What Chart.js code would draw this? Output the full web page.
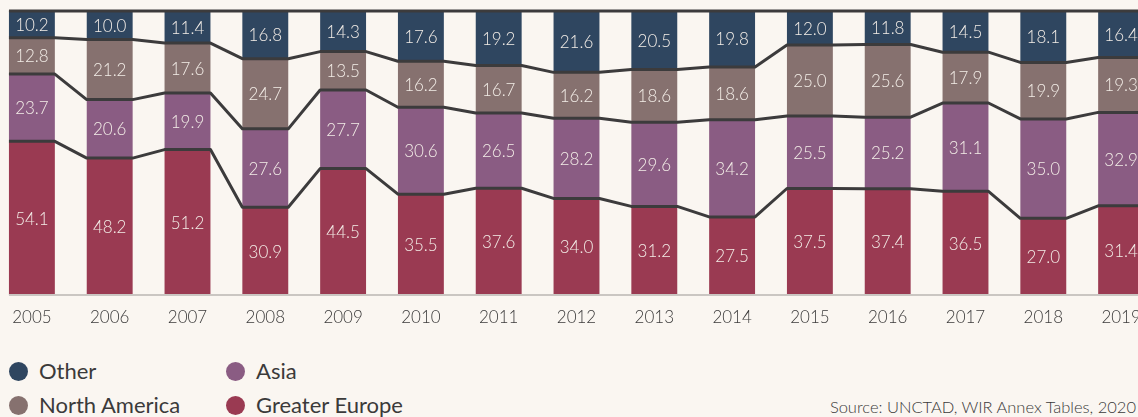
<!DOCTYPE html>
<html>
<head>
<meta charset="utf-8">
<script src="https://cdn.jsdelivr.net/npm/chart.js@4.4.1/dist/chart.umd.min.js"></script>
<style>
  html, body { margin: 0; padding: 0; background: #faf6f1; overflow: hidden; }
  body { width: 1138px; height: 417px; position: relative; font-family: "Lato", sans-serif; color: #3b3a3a; }
  .plot { position: absolute; left: -7px; top: 0; width: 1167px; height: 330px; }
  .leg { position: absolute; font-size: 22px; line-height: 1; display: flex; align-items: center; }
  .leg i { display: inline-block; width: 19px; height: 19px; border-radius: 50%; margin-right: 11px; }
  .src { position: absolute; right: 2px; top: 397px; font-size: 16.5px; font-weight: 300; white-space: nowrap; }
</style>
</head>
<body>
<div class="plot"><canvas id="c"></canvas></div>
<div class="leg" style="left:9px; top:360px"><i style="background:#2f4660"></i>Other</div>
<div class="leg" style="left:226px; top:360px"><i style="background:#8a5c83"></i>Asia</div>
<div class="leg" style="left:9px; top:394px"><i style="background:#86716f"></i>North America</div>
<div class="leg" style="left:226px; top:394px"><i style="background:#9a3a52"></i>Greater Europe</div>
<div class="src">Source: UNCTAD, WIR Annex Tables, 2020</div>
<script>
const YEARS = ["2005", "2006", "2007", "2008", "2009", "2010", "2011", "2012", "2013", "2014", "2015", "2016", "2017", "2018", "2019"];
const EUROPE = [54.1, 48.2, 51.2, 30.9, 44.5, 35.5, 37.6, 34.0, 31.2, 27.5, 37.5, 37.4, 36.5, 27.0, 31.4];
const ASIA = [23.7, 20.6, 19.9, 27.6, 27.7, 30.6, 26.5, 28.2, 29.6, 34.2, 25.5, 25.2, 31.1, 35.0, 32.9];
const NORTH_AMERICA = [12.8, 21.2, 17.6, 24.7, 13.5, 16.2, 16.7, 16.2, 18.6, 18.6, 25.0, 25.6, 17.9, 19.9, 19.3];
const OTHER = [10.2, 10.0, 11.4, 16.8, 14.3, 17.6, 19.2, 21.6, 20.5, 19.8, 12.0, 11.8, 14.5, 18.1, 16.4];

const LINE = "#3c3b3c";
const LABEL = "#f3ede7";

// lignes de liaison entre les barres + ligne du haut + axe du bas
const joiners = {
  id: "joiners",
  afterDatasetsDraw(chart) {
    const ctx = chart.ctx;
    const y = chart.scales.y;
    const first = chart.getDatasetMeta(0).data[0];
    const x0 = first.x - first.width / 2;
    ctx.save();
    // axe du bas
    ctx.strokeStyle = "#cac6c2";
    ctx.lineWidth = 2;
    ctx.beginPath();
    ctx.moveTo(x0, y.getPixelForValue(0));
    ctx.lineTo(chart.width, y.getPixelForValue(0));
    ctx.stroke();
    // limites entre segments
    ctx.strokeStyle = LINE;
    ctx.lineWidth = 3;
    ctx.lineJoin = "round";
    for (let k = 0; k < 3; k++) {
      const els = chart.getDatasetMeta(k).data;
      ctx.beginPath();
      els.forEach((el, i) => {
        const l = el.x - el.width / 2, r = el.x + el.width / 2;
        if (i === 0) ctx.moveTo(l, el.y); else ctx.lineTo(l, el.y);
        ctx.lineTo(r, el.y);
      });
      ctx.stroke();
    }
    // ligne du haut (100 %)
    ctx.beginPath();
    ctx.moveTo(x0, y.getPixelForValue(100));
    ctx.lineTo(chart.width, y.getPixelForValue(100));
    ctx.stroke();
    // valeurs dans les segments
    ctx.fillStyle = LABEL;
    ctx.font = "300 17px Lato, sans-serif";
    ctx.textAlign = "center";
    ctx.textBaseline = "middle";
    chart.data.datasets.forEach((ds, k) => {
      chart.getDatasetMeta(k).data.forEach((el, i) => {
        const top = Math.max(el.y, y.getPixelForValue(100));
        ctx.fillText(ds.data[i].toFixed(1), el.x, (top + el.base) / 2 + 1);
      });
    });
    ctx.restore();
  },
};

new Chart(document.getElementById("c"), {
  type: "bar",
  data: {
    labels: YEARS,
    datasets: [
      { label: "Greater Europe", data: EUROPE, backgroundColor: "#9a3a52" },
      { label: "Asia", data: ASIA, backgroundColor: "#8a5c83" },
      { label: "North America", data: NORTH_AMERICA, backgroundColor: "#86716f" },
      { label: "Other", data: OTHER, backgroundColor: "#2f4660" },
    ],
  },
  options: {
    responsive: true, maintainAspectRatio: false, animation: false,
    categoryPercentage: 1, barPercentage: 0.59,
    layout: { padding: { top: 11, left: 0, right: 0, bottom: 0 } },
    plugins: { legend: { display: false }, tooltip: { enabled: false } },
    scales: {
      x: {
        stacked: true,
        grid: { display: false, drawTicks: false },
        border: { display: false },
        ticks: { color: "#3b3a3a", font: { family: "Lato", size: 17, weight: 300 }, padding: 12, maxRotation: 0, autoSkip: false },
        afterFit: (s) => { s.height = 35; },
      },
      y: { stacked: true, display: false, min: 0, max: 100 },
    },
  },
  plugins: [joiners],
});
</script>
</body>
</html>
